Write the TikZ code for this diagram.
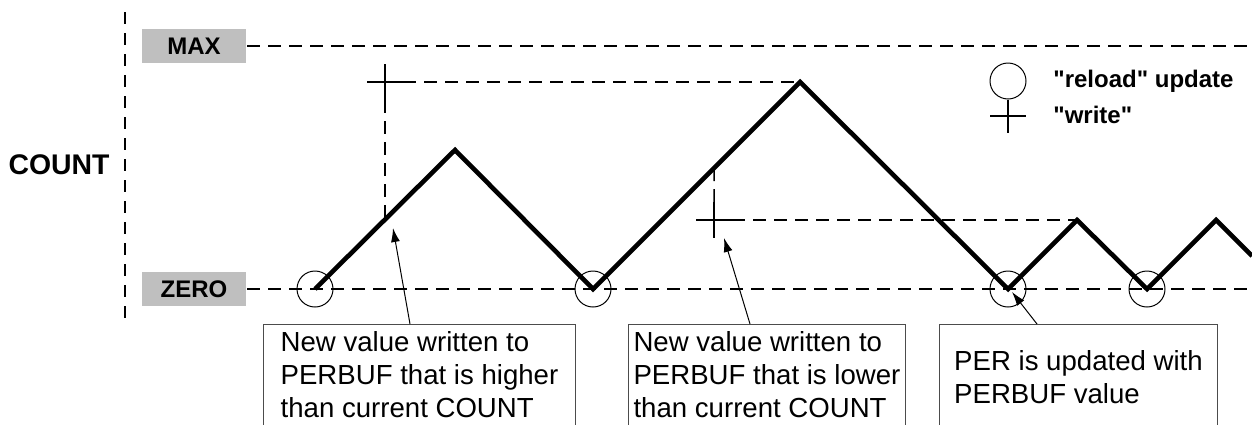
\documentclass[tikz,border=0pt]{standalone}
\usepackage{fontspec}
\setmainfont{Liberation Sans}[Ligatures=TeXOff]
\usetikzlibrary{arrows.meta,calc}

\begin{document}
\begin{tikzpicture}[x=0.5pt, y=-0.5pt, >={Latex[length=7pt,width=4.5pt]}, every node/.style={font=\bfseries\fontsize{12}{14}\selectfont}]
\tikzstyle{guide}=[dash pattern=on 6.5pt off 4pt, line width=0.75pt]
\tikzstyle{level}=[rectangle, fill=black!25, minimum width=52pt, minimum height=17pt, inner sep=0pt]
\tikzstyle{wave}=[line width=2.3pt]
\tikzstyle{reload}=[circle, draw, minimum size=18pt, inner sep=0pt, line width=0.5pt]
\tikzstyle{wrmark}=[line width=0.75pt]
\tikzstyle{note}=[rectangle, draw=black!70, line width=0.5pt, anchor=north west, align=left, inner xsep=0pt, font=\fontsize{13.8}{16.5}\selectfont]
\tikzstyle{callout}=[->, line width=0.5pt]
\useasboundingbox (0,0) rectangle (1252,424);
% axis and levels
\coordinate (atop) at (125,12);
\coordinate (abot) at (125,320);
\draw[guide, dash pattern=on 6pt off 4.5pt] (atop) -- (abot);
\node (count) at (59,165) {\fontsize{14.2}{16}\selectfont COUNT};
\coordinate (maxl) at (142,46);
\coordinate (maxr) at (1252,46);
\coordinate (zerol) at (142,289);
\coordinate (zeror) at (1252,289);
\draw[guide] (maxl) -- (maxr);
\draw[guide] (zerol) -- (zeror);
\node[level] (max) at (194,46) {MAX};
\node[level] (zero) at (194,289) {ZERO};
% counter
\coordinate (w0) at (315,289);
\coordinate (w1) at (455,150);
\coordinate (w2) at (593,289);
\coordinate (w3) at (800,82);
\coordinate (w4) at (1008,289);
\coordinate (w5) at (1077,220);
\coordinate (w6) at (1147,289);
\coordinate (w7) at (1216,220);
\coordinate (w8) at (1252,256);
% writes
\coordinate (wr1) at (385,82);
\coordinate (wr2) at (714,220);
\draw[guide] ([yshift=-9pt]wr1) -- ($(w0)!0.5!(w1)$);
\draw[guide] ([xshift=9pt]wr1) -- (w3);
\draw[guide] ([yshift=9pt]wr2) -- ($(w2)!0.585!(w3)$);
\draw[guide] ([xshift=9pt]wr2) -- (w5);
\draw[wrmark] ([xshift=-9pt]wr1) -- ([xshift=9pt]wr1) ([yshift=9pt]wr1) -- ([yshift=-9pt]wr1);
\draw[wrmark] ([xshift=-9pt]wr2) -- ([xshift=9pt]wr2) ([yshift=9pt]wr2) -- ([yshift=-9pt]wr2);
\draw[wave] (w0) -- (w1) -- (w2) -- (w3) -- (w4) -- (w5) -- (w6) -- (w7) -- (w8);
\foreach \p in {w0,w2,w4,w6}
  \node[reload] (r-\p) at (\p) {};
% legend
\node[reload] (lgc) at (1008,81) {};
\coordinate (lgw) at (1008,116);
\draw[wrmark] (lgc.south) -- ([yshift=-8.5pt]lgw) ([xshift=-9pt]lgw) -- ([xshift=9pt]lgw);
\node[anchor=west, inner sep=0pt] (lgreload) at (1053,81) {"reload" update};
\node[anchor=west, inner sep=0pt] (lgwrite) at (1053,115) {"write"};
% notes
\node[note, minimum width=156pt, inner ysep=3.5pt, text depth=14pt] (hi) at (263,324) {New value written to\\PERBUF that is higher\\than current COUNT};
\node[note, minimum width=138.5pt, inner ysep=3.5pt, text depth=14pt] (lo) at (628,324) {New value written to\\PERBUF that is lower\\than current COUNT};
\node[note, minimum width=139pt, inner ysep=13pt] (upd) at (939,324) {PER is updated with\\PERBUF value};
\coordinate (hitip) at (393,228);
\coordinate (lotip) at (724,238);
\coordinate (updtip) at (1012,292);
\draw[callout] ([xshift=73.5pt]hi.north west) -- (hitip);
\draw[callout] ([xshift=61pt]lo.north west) -- (lotip);
\draw[callout] ([xshift=49pt]upd.north west) -- (updtip);
\end{tikzpicture}
\end{document}
